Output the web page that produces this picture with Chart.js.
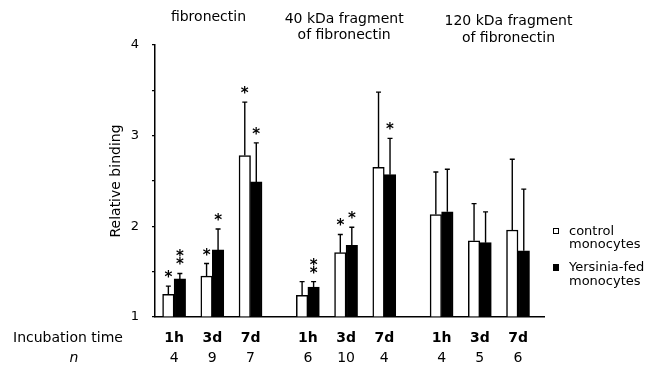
<!DOCTYPE html>
<html>
<head>
<meta charset="utf-8">
<script src="https://cdn.jsdelivr.net/npm/chart.js@4.4.0/dist/chart.umd.min.js"></script>
<style>
  html, body { margin: 0; padding: 0; background: #fff; }
  #wrap { width: 650px; height: 368px; }
</style>
</head>
<body>
<div id="wrap"><canvas id="binding-chart"></canvas></div>
<script>
// substrates (group titles), time points and n per bar pair
const substrates = [['fibronectin'], ['40 kDa fragment', 'of fibronectin'], ['120 kDa fragment', 'of fibronectin']];
const times = ['1h', '3d', '7d'];
const nValues = [4, 9, 7, 6, 10, 4, 4, 5, 6];

// relative binding, mean and upper error
const controlMean = [1.25, 1.45, 2.78, 1.24, 1.71, 2.65, 2.13, 1.84, 1.96];
const controlErr  = [0.09, 0.14, 0.59, 0.15, 0.20, 0.83, 0.47, 0.41, 0.78];
const yersMean    = [1.42, 1.74, 2.49, 1.33, 1.79, 2.57, 2.16, 1.82, 1.73];
const yersErr     = [0.06, 0.23, 0.43, 0.06, 0.20, 0.40, 0.47, 0.34, 0.68];
const controlStars = ['*', '*', '*', '', '*', '', '', '', ''];
const yersStars    = ['**', '*', '*', '**', '*', '*', '', '', ''];
const yTicks = [1, 2, 3, 4];

const FONT = "'DejaVu Sans', sans-serif";
const BLACK = '#000';

// pair position on the x axis: groups of three with a wider gap between
const xPos = i => Math.floor(i / 3) * 3.5 + (i % 3);

const extras = {
  id: 'extras',
  afterDatasetsDraw(chart) {
    const ctx = chart.ctx;
    const y = chart.scales.y;
    const sets = [[controlMean, controlErr, controlStars], [yersMean, yersErr, yersStars]];
    ctx.save();
    sets.forEach((s, di) => {
      const meta = chart.getDatasetMeta(di);
      meta.data.forEach((bar, i) => {
        const top = y.getPixelForValue(s[0][i] + s[1][i]);
        const base = y.getPixelForValue(s[0][i]);
        ctx.strokeStyle = BLACK;
        ctx.lineWidth = 1.4;
        ctx.beginPath();
        ctx.moveTo(bar.x, base);
        ctx.lineTo(bar.x, top);
        ctx.moveTo(bar.x - 2.5, top);
        ctx.lineTo(bar.x + 2.5, top);
        ctx.stroke();
        // significance stars, stacked
        ctx.fillStyle = BLACK;
        ctx.font = 'bold 15px ' + FONT;
        ctx.textAlign = 'center';
        ctx.textBaseline = 'alphabetic';
        s[2][i].split('').forEach((st, k) => {
          ctx.fillText(st, bar.x, top - 4 - k * 8);
        });
      });
    });
    ctx.restore();
  },
  afterDraw(chart) {
    const ctx = chart.ctx;
    const x = chart.scales.x;
    ctx.save();
    ctx.fillStyle = BLACK;
    ctx.textAlign = 'center';
    ctx.textBaseline = 'alphabetic';

    // group titles
    ctx.font = '14px ' + FONT;
    const titleX = [0.9, 4.45, 8.75];
    const titleY = [[21], [23, 39], [25, 42]];
    substrates.forEach((lines, g) => {
      lines.forEach((t, k) => ctx.fillText(t, x.getPixelForValue(titleX[g]), titleY[g][k]));
    });

    // incubation time and n rows
    ctx.textAlign = 'left';
    ctx.fillText('Incubation time', 13, 342);
    ctx.textAlign = 'center';
    ctx.font = 'italic 14px ' + FONT;
    ctx.fillText('n', 74, 362);
    nValues.forEach((n, i) => {
      const px = x.getPixelForValue(xPos(i));
      ctx.font = 'bold 14px ' + FONT;
      ctx.fillText(times[i % 3], px, 342);
      ctx.font = '14px ' + FONT;
      ctx.fillText(String(n), px, 362);
    });

    // legend
    ctx.textAlign = 'left';
    ctx.font = '13px ' + FONT;
    ctx.strokeStyle = BLACK;
    ctx.lineWidth = 1;
    ctx.strokeRect(553.5, 228.5, 5, 5);
    ctx.fillText('control', 569, 235);
    ctx.fillText('monocytes', 569, 248);
    ctx.fillRect(553, 264, 6, 7);
    ctx.fillText('Yersinia-fed', 569, 271);
    ctx.fillText('monocytes', 569, 285);
    ctx.restore();
  }
};

new Chart(document.getElementById('binding-chart'), {
  type: 'bar',
  data: {
    datasets: [
      {
        label: 'control monocytes',
        data: controlMean.map((v, i) => ({ x: xPos(i), y: v })),
        backgroundColor: '#fff',
        borderColor: BLACK,
        borderWidth: 1.5,
        base: 1,
        barThickness: 11.5
      },
      {
        label: 'Yersinia-fed monocytes',
        data: yersMean.map((v, i) => ({ x: xPos(i), y: v })),
        backgroundColor: BLACK,
        borderColor: BLACK,
        borderWidth: 1.5,
        base: 1,
        barThickness: 11.5
      }
    ]
  },
  options: {
    responsive: true,
    maintainAspectRatio: false,
    animation: false,
    layout: { padding: { top: 45, right: 106, bottom: 0, left: 108 } },
    plugins: { legend: { display: false }, tooltip: { enabled: false } },
    scales: {
      x: {
        type: 'linear',
        min: -0.5,
        max: 9.68,
        offset: false,
        grid: { display: false },
        ticks: { display: false },
        border: { display: true, color: BLACK, width: 1.5 },
        afterFit: s => { s.height = 51; }
      },
      y: {
        min: 1,
        max: 4,
        grid: { display: true, drawOnChartArea: false, color: BLACK, tickLength: 3, lineWidth: 1.2 },
        border: { display: true, color: BLACK, width: 1.5 },
        ticks: {
          stepSize: 0.5,
          padding: 13,
          color: BLACK,
          font: { family: FONT, size: 13 },
          callback: v => yTicks.includes(v) ? String(v) : ''
        },
        title: {
          display: true,
          text: 'Relative binding',
          color: BLACK,
          font: { family: FONT, size: 14 },
          padding: 0
        },
        afterFit: s => { s.width = 47; }
      }
    }
  },
  plugins: [extras]
});
</script>
</body>
</html>
